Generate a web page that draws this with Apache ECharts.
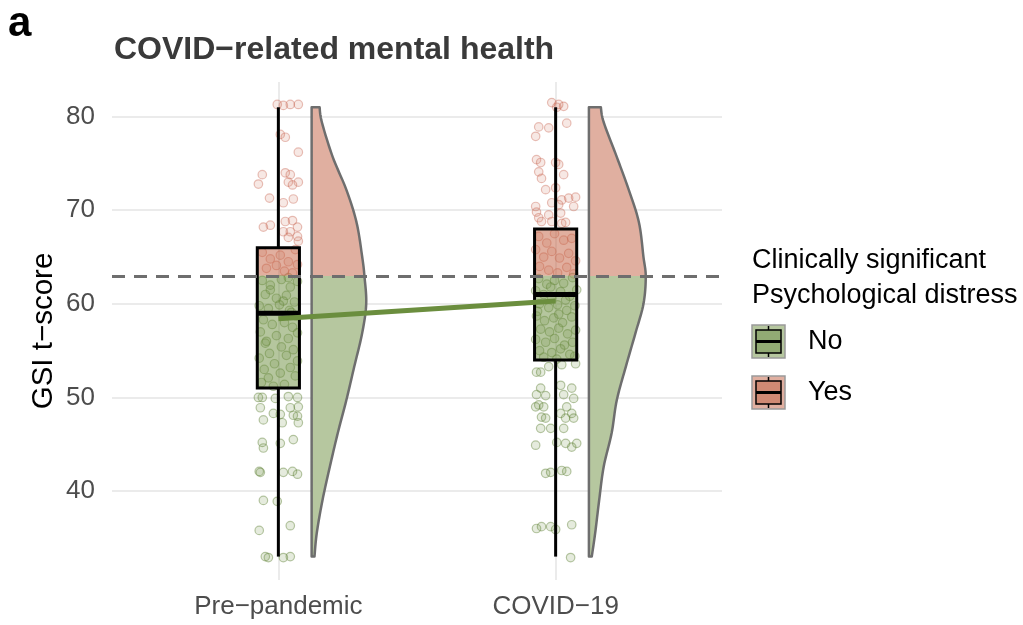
<!DOCTYPE html>
<html>
<head>
<meta charset="utf-8">
<script src="https://cdn.jsdelivr.net/npm/echarts@6/dist/echarts.min.js"></script>
<style>
  html, body { margin: 0; padding: 0; background: #ffffff; }
  #chart { width: 1023px; height: 625px; }
</style>
</head>
<body>
<div id="chart"></div>
<script>
// ---- data ----
const categories = ['Pre−pandemic', 'COVID−19'];
const yTicks = [40, 50, 60, 70, 80];
const threshold = 63; // clinical cut-off for GSI t-score

// box statistics: [lower whisker, Q1, median, Q3, upper whisker]
const preBox = [33, 51, 59, 66, 81];
const covidBox = [33, 54, 61, 68, 81];

// group means joined by the trend line
const groupMeans = [58.4, 60.3];

// half-violin density profile (relative), sampled at these score levels
const densityLevels = [33, 35.5, 39, 42.6, 46.2, 49.7, 53.3, 56.9, 60, 62.9, 65, 68.7, 72.2, 75.7, 79.4, 81];
const preDensity   = [0.05, 0.09, 0.19, 0.32, 0.46, 0.61, 0.75, 0.89, 0.96, 0.93, 0.89, 0.79, 0.61, 0.37, 0.18, 0.14];
const covidDensity = [0.05, 0.11, 0.18, 0.26, 0.40, 0.49, 0.65, 0.82, 0.96, 1.00, 0.96, 0.88, 0.70, 0.49, 0.26, 0.21];

// individual scores: [horizontal jitter (category units), GSI t-score]
const prePoints = [
  [-0.004, 81.3], [0.018, 81.2], [0.043, 81.3], [0.072, 81.3],
  [0.007, 78.1], [0.025, 77.8], [0.072, 76.2],
  [-0.058, 73.8], [-0.072, 72.8], [0.025, 74.0], [0.043, 73.8], [0.036, 73.0], [0.072, 73.0], [0.051, 72.7],
  [-0.032, 71.3], [0.018, 70.8], [0.054, 71.2],
  [-0.054, 68.2], [-0.029, 68.4], [0.025, 68.8], [0.051, 68.9], [0.069, 68.2],
  [0.018, 67.7], [0.043, 67.7], [0.069, 67.2], [0.036, 67.1], [0.072, 66.7],
  [-0.058, 65.5], [-0.029, 64.8], [0.007, 65.2], [0.036, 64.5], [0.061, 65.8],
  [-0.043, 63.8], [0.022, 63.5], [0.051, 63.3], [-0.007, 64.1], [0.069, 64.2],
  [-0.058, 62.5], [-0.029, 62.0], [0.011, 62.6], [0.043, 61.8], [0.069, 62.4],
  [-0.047, 61.0], [-0.007, 60.6], [0.029, 60.9], [0.058, 60.2], [-0.069, 59.8],
  [-0.036, 59.5], [0.004, 59.9], [0.040, 59.3], [0.065, 58.7], [-0.054, 58.3],
  [-0.022, 57.8], [0.022, 58.0], [0.051, 57.5], [-0.065, 57.0], [-0.007, 56.6],
  [0.036, 56.3], [0.069, 56.9], [-0.047, 55.8], [0.011, 55.4], [0.054, 55.1],
  [-0.032, 54.7], [-0.069, 54.2], [0.029, 54.5], [0.069, 53.9], [-0.014, 53.6],
  [-0.051, 53.0], [0.043, 53.2], [0.007, 52.6], [-0.036, 52.1], [0.061, 52.3],
  [-0.061, 51.6], [0.022, 51.4], [-0.018, 51.2], [0.047, 59.1], [-0.043, 56.0],
  [0.018, 60.3], [-0.029, 61.5], [0.036, 62.8],
  [-0.072, 50.0], [-0.058, 50.0], [-0.011, 49.9], [0.036, 50.1], [0.069, 50.0],
  [-0.065, 48.9], [0.043, 48.9], [0.072, 49.0],
  [-0.018, 48.3], [0.007, 48.2], [0.054, 48.1], [0.069, 48.0],
  [-0.054, 47.6], [0.014, 47.3], [0.072, 47.3],
  [-0.058, 45.2], [-0.054, 44.6], [0.007, 45.1], [0.054, 45.5],
  [-0.069, 42.1], [-0.065, 42.0], [0.018, 42.0], [0.051, 42.1], [0.069, 41.8],
  [-0.054, 39.0], [-0.004, 38.9],
  [-0.069, 35.8], [0.043, 36.3],
  [-0.047, 33.0], [-0.036, 32.9], [0.018, 32.9], [0.043, 33.0]
];

const covidPoints = [
  [-0.014, 81.5], [0.004, 81.0], [0.029, 81.1], [0.011, 81.3],
  [-0.061, 78.9], [-0.025, 78.8], [0.040, 79.3], [-0.072, 77.9],
  [-0.069, 75.4], [-0.054, 75.1], [0.000, 75.1], [0.011, 74.9], [0.029, 73.8],
  [-0.061, 74.1], [-0.051, 73.4], [-0.036, 72.2], [0.000, 72.4],
  [0.022, 71.1], [0.047, 71.3], [0.072, 71.4], [0.065, 70.4], [0.011, 70.6], [-0.014, 70.8],
  [-0.072, 70.4], [-0.069, 69.8], [-0.061, 69.2], [-0.051, 68.8], [-0.025, 69.5],
  [-0.014, 68.8], [0.018, 69.7], [0.022, 68.6], [0.036, 68.7],
  [-0.061, 67.2], [-0.032, 66.5], [-0.004, 67.5], [0.029, 66.8], [0.058, 67.0],
  [-0.072, 65.8], [-0.043, 65.0], [-0.014, 65.6], [0.014, 64.9], [0.047, 65.4],
  [0.072, 64.6], [-0.058, 64.0], [-0.025, 63.6], [0.007, 63.3], [0.040, 63.9], [0.065, 63.2],
  [-0.061, 62.7], [-0.032, 62.1], [-0.004, 62.5], [0.029, 62.2], [0.061, 62.8],
  [-0.072, 61.4], [-0.043, 61.0], [-0.014, 60.6], [0.018, 61.3], [0.051, 60.8],
  [0.076, 61.5], [-0.058, 60.0], [-0.025, 59.6], [0.007, 59.9], [0.040, 59.3],
  [0.069, 59.8], [-0.069, 58.7], [-0.040, 58.2], [-0.007, 58.5], [0.025, 58.0],
  [0.058, 58.6], [-0.054, 57.3], [-0.022, 57.0], [0.011, 57.4], [0.043, 56.8],
  [0.072, 57.2], [-0.072, 56.2], [-0.036, 55.9], [-0.004, 56.3], [0.032, 55.6],
  [0.061, 55.9], [-0.058, 55.0], [-0.014, 54.8], [0.018, 55.2], [0.051, 54.6],
  [-0.043, 54.3], [0.004, 54.1], [0.069, 54.4], [-0.065, 59.2], [0.036, 60.4],
  [-0.018, 61.8], [0.011, 58.9],
  [-0.069, 52.7], [-0.054, 52.7], [-0.025, 53.3], [0.022, 53.5], [0.072, 53.6],
  [-0.054, 51.0], [-0.069, 50.3], [-0.036, 50.2], [-0.061, 49.2], [-0.043, 49.0],
  [-0.072, 49.0], [-0.051, 47.9], [-0.036, 47.8], [-0.054, 46.7],
  [0.018, 51.3], [0.058, 51.0], [0.029, 50.3], [0.065, 49.9], [0.040, 49.0],
  [0.058, 48.3], [0.018, 48.3], [0.036, 47.8], [0.065, 47.8], [0.029, 46.7],
  [-0.018, 46.7], [0.076, 45.1], [0.058, 44.7], [0.004, 45.2], [0.036, 45.1], [-0.072, 44.9],
  [-0.036, 41.9], [-0.018, 42.0], [0.022, 42.2], [0.040, 42.1],
  [-0.069, 36.0], [-0.051, 36.2], [-0.018, 36.2], [0.000, 35.9], [0.058, 36.4],
  [0.054, 32.9]
];

// ---- styling ----
const FONT = "'Liberation Sans', Arial, Helvetica, sans-serif";
const GREEN = '#6b8e3e';
const GREEN_FILL = 'rgba(107,142,62,0.5)';
const PINK_FILL = 'rgba(196,96,63,0.5)';
const GREEN_SOLID = '#b6c79f';
const PINK_SOLID = '#e0afa0';
const BOX_HALF = 0.076;     // half box width, category units
const VIOLIN_GAP = 0.12;    // violin starts this far right of the category
const VIOLIN_WIDTH = 0.205; // width of the densest part of a violin

const groups = [
  { pos: 1, box: preBox, density: preDensity, points: prePoints },
  { pos: 2, box: covidBox, density: covidDensity, points: covidPoints }
];

// split individual scores by the clinical cut-off
const belowData = [], aboveData = [];
groups.forEach(g => g.points.forEach(([j, v]) => {
  (v >= threshold ? aboveData : belowData).push([g.pos + j, v]);
}));

function renderBox(params, api) {
  const pos = api.value(0);
  const lo = api.value(1), q1 = api.value(2), med = api.value(3), q3 = api.value(4), hi = api.value(5);
  const [xl, yQ3] = api.coord([pos - BOX_HALF, q3]);
  const [xr, yQ1] = api.coord([pos + BOX_HALF, q1]);
  const xc = api.coord([pos, lo])[0];
  const yLo = api.coord([pos, lo])[1];
  const yHi = api.coord([pos, hi])[1];
  const yMed = api.coord([pos, med])[1];
  const yCut = Math.min(Math.max(api.coord([pos, threshold])[1], yQ3), yQ1);
  const black = { stroke: '#000', lineWidth: 3, fill: null };
  return {
    type: 'group',
    children: [
      { type: 'line', shape: { x1: xc, y1: yHi, x2: xc, y2: yQ3 }, style: black },
      { type: 'line', shape: { x1: xc, y1: yQ1, x2: xc, y2: yLo }, style: black },
      { type: 'rect', shape: { x: xl, y: yQ3, width: xr - xl, height: yCut - yQ3 }, style: { fill: PINK_FILL } },
      { type: 'rect', shape: { x: xl, y: yCut, width: xr - xl, height: yQ1 - yCut }, style: { fill: GREEN_FILL } },
      { type: 'rect', shape: { x: xl, y: yQ3, width: xr - xl, height: yQ1 - yQ3 }, style: black },
      { type: 'line', shape: { x1: xl, y1: yMed, x2: xr, y2: yMed }, style: { stroke: '#000', lineWidth: 5 } }
    ]
  };
}

// Catmull-Rom smoothing of the violin's outer edge (pixel space)
function smoothCurve(pts, steps) {
  const out = [];
  for (let i = 0; i < pts.length - 1; i++) {
    const p0 = pts[Math.max(i - 1, 0)], p1 = pts[i], p2 = pts[i + 1], p3 = pts[Math.min(i + 2, pts.length - 1)];
    for (let s = 0; s < steps; s++) {
      const t = s / steps, t2 = t * t, t3 = t2 * t;
      const f = k => 0.5 * ((2 * p1[k]) + (-p0[k] + p2[k]) * t + (2 * p0[k] - 5 * p1[k] + 4 * p2[k] - p3[k]) * t2 + (-p0[k] + 3 * p1[k] - 3 * p2[k] + p3[k]) * t3);
      out.push([f(0), f(1)]);
    }
  }
  out.push(pts[pts.length - 1]);
  return out;
}

function renderViolin(params, api) {
  const g = groups[params.dataIndex];
  const base = g.pos + VIOLIN_GAP;
  const edge = densityLevels.map((lv, i) => api.coord([base + g.density[i] * VIOLIN_WIDTH, lv]));
  const curve = smoothCurve(edge, 10);
  const bottom = api.coord([base, densityLevels[0]]);
  const top = api.coord([base, densityLevels[densityLevels.length - 1]]);
  const poly = [bottom].concat(curve, [top]);
  const yCut = api.coord([base, threshold])[1];
  const t = (yCut - top[1]) / (bottom[1] - top[1]);
  return {
    type: 'polygon',
    shape: { points: poly },
    style: {
      fill: {
        type: 'linear', x: 0, y: top[1], x2: 0, y2: bottom[1], global: true,
        colorStops: [
          { offset: 0, color: PINK_SOLID }, { offset: t, color: PINK_SOLID },
          { offset: t, color: GREEN_SOLID }, { offset: 1, color: GREEN_SOLID }
        ]
      },
      stroke: '#6e6e6e',
      lineWidth: 2.5,
      lineJoin: 'round'
    }
  };
}

function legendKey(y, light, dark) {
  const x = 752, s = 33, cx = x + s / 2;
  return {
    type: 'group',
    children: [
      { type: 'rect', shape: { x: x, y: y, width: s, height: s }, style: { fill: light, stroke: '#9a9a9a', lineWidth: 1.5 } },
      { type: 'line', shape: { x1: cx, y1: y + 1, x2: cx, y2: y + 5 }, style: { stroke: '#000', lineWidth: 1.5 } },
      { type: 'line', shape: { x1: cx, y1: y + s - 5, x2: cx, y2: y + s - 1 }, style: { stroke: '#000', lineWidth: 1.5 } },
      { type: 'rect', shape: { x: x + 4, y: y + 5, width: s - 8, height: s - 10 }, style: { fill: dark, stroke: '#000', lineWidth: 1.5 } },
      { type: 'line', shape: { x1: x + 4, y1: y + s / 2, x2: x + s - 4, y2: y + s / 2 }, style: { stroke: '#000', lineWidth: 3 } }
    ]
  };
}

const chart = echarts.init(document.getElementById('chart'), null, { renderer: 'canvas' });

chart.setOption({
  animation: false,
  backgroundColor: '#ffffff',
  textStyle: { fontFamily: FONT },
  title: {
    text: 'COVID−related mental health',
    left: 109, top: 29,
    textStyle: { fontFamily: FONT, fontSize: 32, fontWeight: 'bold', color: '#3a3a3a' }
  },
  grid: { left: 112, right: 301, top: 82, bottom: 45 },
  xAxis: {
    type: 'value', min: 0.4, max: 2.6,
    axisLine: { show: false },
    axisTick: { show: false, customValues: [1, 2] },
    axisLabel: {
      customValues: [1, 2],
      formatter: v => categories[Math.round(v) - 1],
      fontFamily: FONT, fontSize: 26, color: '#4d4d4d', margin: 14
    },
    splitLine: { show: true, lineStyle: { color: '#ebebeb', width: 2 } }
  },
  yAxis: {
    type: 'value', min: 30.5, max: 83.7,
    name: 'GSI t−score', nameLocation: 'middle', nameGap: 53, nameRotate: 90,
    nameMoveOverlap: false,
    nameTextStyle: { fontFamily: FONT, fontSize: 29.5, color: '#000' },
    axisLine: { show: false },
    axisTick: { show: false, customValues: yTicks },
    axisLabel: { customValues: yTicks, fontFamily: FONT, fontSize: 26, color: '#4d4d4d', margin: 17 },
    splitLine: { show: true, lineStyle: { color: '#ebebeb', width: 2 } }
  },
  series: [
    {
      name: 'No', type: 'scatter', z: 2, symbol: 'circle', symbolSize: 8.5,
      itemStyle: { color: 'rgba(107,142,62,0.22)', borderColor: 'rgba(95,130,55,0.55)', borderWidth: 1.2 },
      data: belowData
    },
    {
      name: 'Yes', type: 'scatter', z: 2, symbol: 'circle', symbolSize: 8.5,
      itemStyle: { color: 'rgba(205,110,85,0.2)', borderColor: 'rgba(200,100,80,0.5)', borderWidth: 1.2 },
      data: aboveData
    },
    {
      type: 'line', z: 3, data: [], silent: true,
      markLine: {
        silent: true, symbol: 'none', label: { show: false },
        lineStyle: { color: '#6e6e6e', type: [13, 9], width: 3 },
        data: [{ yAxis: threshold }]
      }
    },
    {
      type: 'custom', z: 4, renderItem: renderBox, silent: true,
      encode: { x: 0, y: [1, 2, 3, 4, 5] },
      data: groups.map(g => [g.pos].concat(g.box))
    },
    {
      type: 'custom', z: 4, renderItem: renderViolin, silent: true,
      encode: { x: 0, y: [1, 2] },
      data: groups.map(g => [g.pos, densityLevels[0], densityLevels[densityLevels.length - 1]])
    },
    {
      type: 'line', z: 6, symbol: 'none', silent: true,
      lineStyle: { color: GREEN, width: 5 },
      data: groupMeans.map((m, i) => [groups[i].pos, m])
    }
  ],
  graphic: [
    { type: 'text', left: 8, top: 3, style: { text: 'a', font: "bold 42px " + FONT, fill: '#000' } },
    { type: 'text', left: 752, top: 247, style: { text: 'Clinically significant', font: "27px " + FONT, fill: '#000' } },
    { type: 'text', left: 752, top: 282, style: { text: 'Psychological distress', font: "27px " + FONT, fill: '#000' } },
    legendKey(325, GREEN_SOLID, '#92ab74'),
    legendKey(376, PINK_SOLID, '#d08a74'),
    { type: 'text', left: 808, top: 328, style: { text: 'No', font: "27px " + FONT, fill: '#000' } },
    { type: 'text', left: 808, top: 379, style: { text: 'Yes', font: "27px " + FONT, fill: '#000' } }
  ]
});
</script>
</body>
</html>
